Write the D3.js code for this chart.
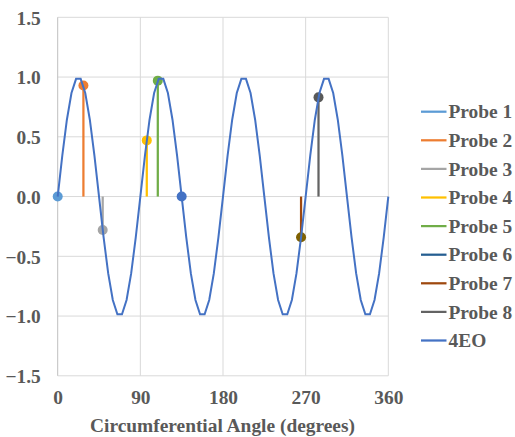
<!DOCTYPE html>
<html><head><meta charset="utf-8">
<script src="https://cdn.jsdelivr.net/npm/d3@7/dist/d3.min.js"></script>
<style>
body{margin:0;background:#fff;}
text{font-family:"Liberation Serif","Times New Roman",serif;font-weight:bold;fill:#595959;}
</style></head><body>
<svg id="chart" width="515" height="437"></svg>
<script>
// ---- data ----
const xTicks = [0, 90, 180, 270, 360];
const yTicks = [-1.5, -1.0, -0.5, 0.0, 0.5, 1.0, 1.5];
const eoAngles = d3.range(0, 361, 5);
const eoValues = [
  0, 0.342, 0.643, 0.866, 0.985, 0.985, 0.866, 0.643, 0.342,
  0, -0.342, -0.643, -0.866, -0.985, -0.985, -0.866, -0.643, -0.342,
  0, 0.342, 0.643, 0.866, 0.985, 0.985, 0.866, 0.643, 0.342,
  0, -0.342, -0.643, -0.866, -0.985, -0.985, -0.866, -0.643, -0.342,
  0, 0.342, 0.643, 0.866, 0.985, 0.985, 0.866, 0.643, 0.342,
  0, -0.342, -0.643, -0.866, -0.985, -0.985, -0.866, -0.643, -0.342,
  0, 0.342, 0.643, 0.866, 0.985, 0.985, 0.866, 0.643, 0.342,
  0, -0.342, -0.643, -0.866, -0.985, -0.985, -0.866, -0.643, -0.342,
  0
];
const probeNames = ["Probe 1","Probe 2","Probe 3","Probe 4","Probe 5","Probe 6","Probe 7","Probe 8"];
const probeAngles = [0, 28, 49, 97, 109, 135, 265, 284];
const probeValues = [0, 0.93, -0.28, 0.47, 0.97, 0, -0.34, 0.83];
const seriesNames = probeNames.concat(["4EO"]);

// ---- styles ----
const lineColors = ["#5B9BD5","#ED7D31","#A5A5A5","#FFC000","#70AD47","#255E91","#9E480E","#636363","#4472C4"];
const markerColors = ["#5B9BD5","#ED7D31","#A5A5A5","#FFC000","#70AD47","#4472C4","#7F6000","#595959"];
const FS = "19.4px";

const svg = d3.select("#chart");
const x = d3.scaleLinear().domain([0, 360]).range([57.7, 388.3]);
const y = d3.scaleLinear().domain([-1.5, 1.5]).range([375.8, 17.3]);

// gridlines
svg.append("g").selectAll("line.h").data(yTicks).join("line")
  .attr("x1", x(0)).attr("x2", x(360))
  .attr("y1", d => y(d)).attr("y2", d => y(d))
  .attr("stroke", "#D9D9D9").attr("stroke-width", 1);
svg.append("g").selectAll("line.v").data(xTicks).join("line")
  .attr("x1", d => x(d)).attr("x2", d => x(d))
  .attr("y1", y(1.5)).attr("y2", y(-1.5))
  .attr("stroke", d => d === 0 ? "#BFBFBF" : "#D9D9D9").attr("stroke-width", 1);

// axes (labels only)
const yAxis = d3.axisLeft(y).tickValues(yTicks).tickFormat(d3.format(".1f")).tickSize(0).tickPadding(0);
const gy = svg.append("g").attr("transform", `translate(${x(0)-17},0)`).call(yAxis);
gy.select(".domain").remove();
gy.selectAll("text").attr("font-size", FS).attr("dy", "0.35em")
  .style("font-family", '"Liberation Serif",serif').style("font-weight", "bold").attr("fill", "#595959");

const xAxis = d3.axisBottom(x).tickValues(xTicks).tickFormat(d3.format("d")).tickSize(0).tickPadding(0);
const gx = svg.append("g").attr("transform", `translate(0,${y(-1.5)+14})`).call(xAxis);
gx.select(".domain").remove();
gx.selectAll("text").attr("font-size", FS).attr("dy", "0.71em")
  .style("font-family", '"Liberation Serif",serif').style("font-weight", "bold").attr("fill", "#595959");

svg.append("text").attr("x", (x(0)+x(360))/2 - 0.5).attr("y", 432)
  .attr("text-anchor", "middle").attr("font-size", FS)
  .text("Circumferential Angle (degrees)");

// probes: vertical stems + markers
const probes = probeNames.map((n, i) => ({name: n, a: probeAngles[i], v: probeValues[i], i}));
svg.append("g").selectAll("line").data(probes).join("line")
  .attr("x1", d => x(d.a)).attr("x2", d => x(d.a))
  .attr("y1", y(0)).attr("y2", d => y(d.v))
  .attr("stroke", d => lineColors[d.i]).attr("stroke-width", 2.25);
svg.append("g").selectAll("circle").data(probes).join("circle")
  .attr("cx", d => x(d.a)).attr("cy", d => y(d.v)).attr("r", 5)
  .attr("fill", d => markerColors[d.i]);

// 4EO line
const eo = eoAngles.map((a, i) => [a, eoValues[i]]);
svg.append("path").datum(eo)
  .attr("d", d3.line().x(d => x(d[0])).y(d => y(d[1])))
  .attr("fill", "none").attr("stroke", lineColors[8]).attr("stroke-width", 2);

// legend
const lg = svg.append("g");
seriesNames.forEach((n, i) => {
  const yy = 111.7 + i * 28.6;
  lg.append("line").attr("x1", 421).attr("x2", 446.5).attr("y1", yy).attr("y2", yy)
    .attr("stroke", lineColors[i]).attr("stroke-width", 2.25);
  lg.append("text").attr("x", 448.5).attr("y", yy).attr("dy", "0.35em")
    .attr("font-size", FS).text(n);
});
</script>
</body></html>
